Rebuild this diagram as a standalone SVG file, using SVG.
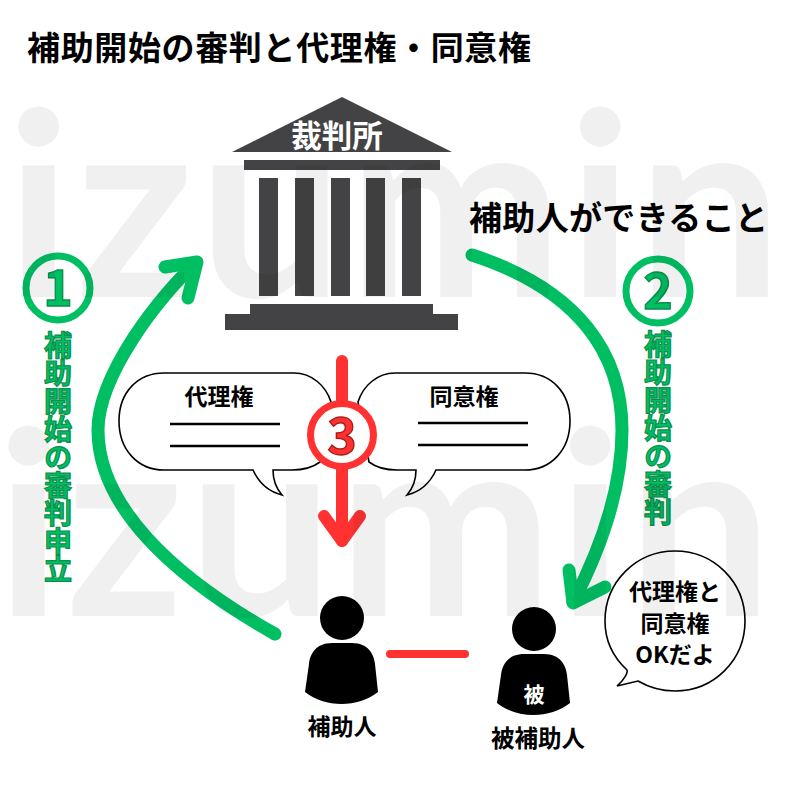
<svg xmlns="http://www.w3.org/2000/svg" width="800" height="800" viewBox="0 0 800 800">
<style>
text{font-family:"Noto Sans CJK JP","Noto Sans",sans-serif;font-weight:700;fill:#000;text-anchor:middle}
.t{font-size:33px;text-anchor:start}
.l{font-size:23px}
.w{fill:#fff}
.v{font-size:28px;writing-mode:vertical-rl;fill:#00bf63;stroke:#0a8f4d;stroke-width:1.2px;text-anchor:start}
.n{font-size:50px;fill:#00bf63;stroke:#0a8f4d;stroke-width:1.4px}
.g{fill:none;stroke:#00bf63;stroke-width:13;stroke-linecap:round;stroke-linejoin:round}
.r{fill:none;stroke:#ff3131;stroke-width:12;stroke-linecap:round;stroke-linejoin:round}
.c{fill:#434345}
.b{fill:#fff;stroke:#000;stroke-width:1.6}
.u{stroke:#000;stroke-width:2.6}
.wm{font-family:"Lato",sans-serif;font-weight:700;font-size:257px;fill:#000;fill-opacity:.06;text-anchor:start;letter-spacing:4.5px}
</style>
<defs>
<g id="person"><circle cx="342" cy="618" r="22"/><path d="M332 643H352C368 643 374 654 375 664L378 692C358 708 325 708 305 692L309 664C310 654 316 643 332 643Z"/></g>
</defs>
<rect width="800" height="800" fill="#fff"/>
<text class="t" x="27" y="60" textLength="504">補助開始の審判と代理権・同意権</text>
<g id="court">
<path class="c" d="M342 97L452 152H232Z"/>
<rect class="c" x="244" y="160" width="196" height="10"/>
<rect class="c" x="259" y="178" width="19" height="118"/>
<rect class="c" x="295" y="178" width="19" height="118"/>
<rect class="c" x="331" y="178" width="19" height="118"/>
<rect class="c" x="366" y="178" width="19" height="118"/>
<rect class="c" x="402" y="178" width="19" height="118"/>
<path class="c" d="M250 304H433V314H458V330H225V314H250Z"/>
<text class="w" x="337" y="147" font-size="30.5">裁判所</text>
</g>
<text id="can-do" class="t" x="469" y="230" textLength="299">補助人ができること</text>
<g id="connectors">
<path class="g" d="M275 634C170 575 98 505 98 430C98 375 160 295 196 263"/>
<path class="g" d="M165 267L197 262L188 298"/>
<path class="g" d="M472 255C580 290 622 355 622 430C622 490 600 550 573 602"/>
<path class="g" d="M569 570L573 603L605 587"/>
<path class="r" d="M342 361V541"/>
<path class="r" d="M324 516L342 541L360 516"/>
<path d="M390 654H465" fill="none" stroke="#ff3131" stroke-width="8" stroke-linecap="round"/>
</g>
<g id="bubble-left">
<path class="b" d="M164 373H294C312 373 326 386 331 402L320 462C312 468 304 470 292 470H273C273 480 275 487 282 495C266 491 258 481 253 470H164C138 470 119 450 119 421C119 392 138 373 164 373Z"/>
<text class="l" x="219" y="405">代理権</text>
<path class="u" d="M170 424H280M170 446H280"/>
</g>
<g id="bubble-right">
<path class="b" d="M395 373H525C551 373 570 392 570 421C570 450 551 470 525 470H436C431 481 423 491 407 495C414 487 416 480 416 470H397C385 470 377 468 369 462L358 402C363 386 377 373 395 373Z"/>
<text class="l" x="464" y="405">同意権</text>
<path class="u" d="M418 423H528M418 445H528"/>
</g>
<g id="step3">
<circle cx="342" cy="435" r="31.5" fill="#fff" stroke="#ff3131" stroke-width="7"/>
<text x="342" y="454" class="n" style="fill:#ff3131;stroke:#a81c1c">3</text>
</g>
<g id="step1">
<circle cx="58" cy="288" r="32" fill="#fff" stroke="#00bf63" stroke-width="7"/>
<text x="58" y="306" class="n">1</text>
<text x="58" y="331" class="v">補助開始の審判申立</text>
</g>
<g id="step2">
<circle cx="658" cy="291" r="32" fill="#fff" stroke="#00bf63" stroke-width="7"/>
<text x="658" y="309" class="n">2</text>
<text x="658" y="330" class="v">補助開始の審判</text>
</g>
<g id="helper">
<use href="#person"/>
<text class="l" x="342" y="735">補助人</text>
</g>
<g id="principal">
<use href="#person" x="192" y="11"/>
<text class="w" x="534" y="702" font-size="21">被</text>
<text class="l" x="538" y="747" style="font-size:23.5px">被補助人</text>
</g>
<g id="speech">
<path class="b" d="M675 551C714 551 745 582 745 621C745 660 714 691 675 691C661 691 650 688 638 681L617 686C624 680 628 673 627 670C613 657 605 640 605 621C605 582 636 551 675 551Z" stroke-width="1"/>
<text class="l" x="675" y="600">代理権と</text>
<text class="l" x="675" y="632">同意権</text>
<text class="l" x="675" y="663">OKだよ</text>
</g>
<g id="watermark">
<text class="wm" x="6" y="297">izumin</text>
<text class="wm" x="-4" y="616">izumin</text>
</g>
</svg>
